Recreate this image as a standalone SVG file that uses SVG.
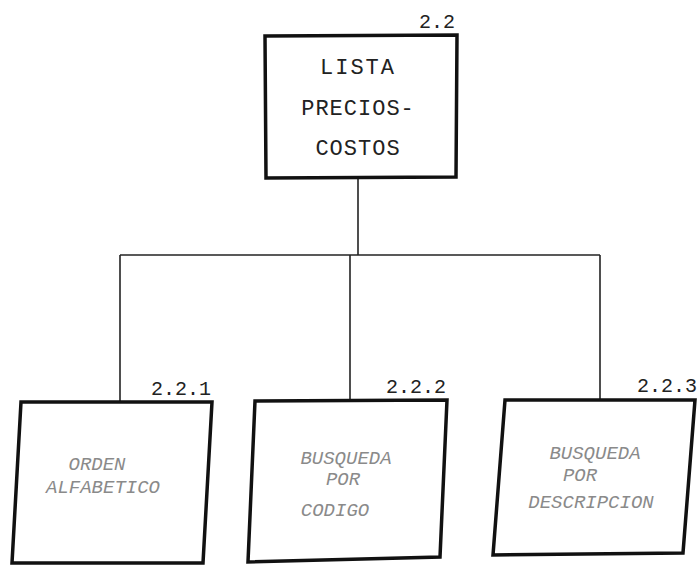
<svg xmlns="http://www.w3.org/2000/svg" width="697" height="565" viewBox="0 0 697 565">
<style>
.box{fill:#fff;stroke:#111;stroke-width:3.5;stroke-linejoin:miter}
.conn{fill:none;stroke:#222;stroke-width:1.6}
.t{font-family:"Liberation Mono","DejaVu Sans Mono",monospace;font-size:22px;fill:#222;text-anchor:middle}
.num{font-family:"Liberation Mono","DejaVu Sans Mono",monospace;font-size:20px;fill:#222;text-anchor:end}
.ft{font-family:"Liberation Mono","DejaVu Sans Mono",monospace;font-size:19px;fill:#8a8a8a;text-anchor:middle;font-style:italic}
</style>
<rect width="697" height="565" fill="#fff"/>
<g id="connectors">
<path class="conn" d="M358 177 V255"/>
<path class="conn" d="M120 255 H600"/>
<path class="conn" d="M120 255 V402"/>
<path class="conn" d="M350 255 V401"/>
<path class="conn" d="M600 255 V400"/>
</g>
<g id="node-2.2">
<polygon class="box" points="265,36 457,35 456,177 266,178"/>
<text class="num" x="455" y="28">2.2</text>
<text class="t" x="358" y="74" letter-spacing="2">LISTA</text>
<text class="t" x="358" y="115" letter-spacing="1">PRECIOS-</text>
<text class="t" x="358" y="155" letter-spacing="1">COSTOS</text>
</g>
<g id="node-2.2.1">
<polygon class="box" points="21,402 212,402 203,563 12,563"/>
<text class="num" x="211" y="395">2.2.1</text>
<text class="ft" x="97" y="470">ORDEN</text>
<text class="ft" x="103" y="493">ALFABETICO</text>
</g>
<g id="node-2.2.2">
<polygon class="box" points="255,401 447,400 440,557 248,562"/>
<text class="num" x="446" y="393">2.2.2</text>
<text class="ft" x="346" y="464">BUSQUEDA</text>
<text class="ft" x="343" y="485">POR</text>
<text class="ft" x="335" y="516">CODIGO</text>
</g>
<g id="node-2.2.3">
<polygon class="box" points="505,400 695,400 683,553 493,555"/>
<text class="num" x="697" y="392">2.2.3</text>
<text class="ft" x="595" y="459">BUSQUEDA</text>
<text class="ft" x="580" y="481">POR</text>
<text class="ft" x="591" y="508">DESCRIPCION</text>
</g>
</svg>
